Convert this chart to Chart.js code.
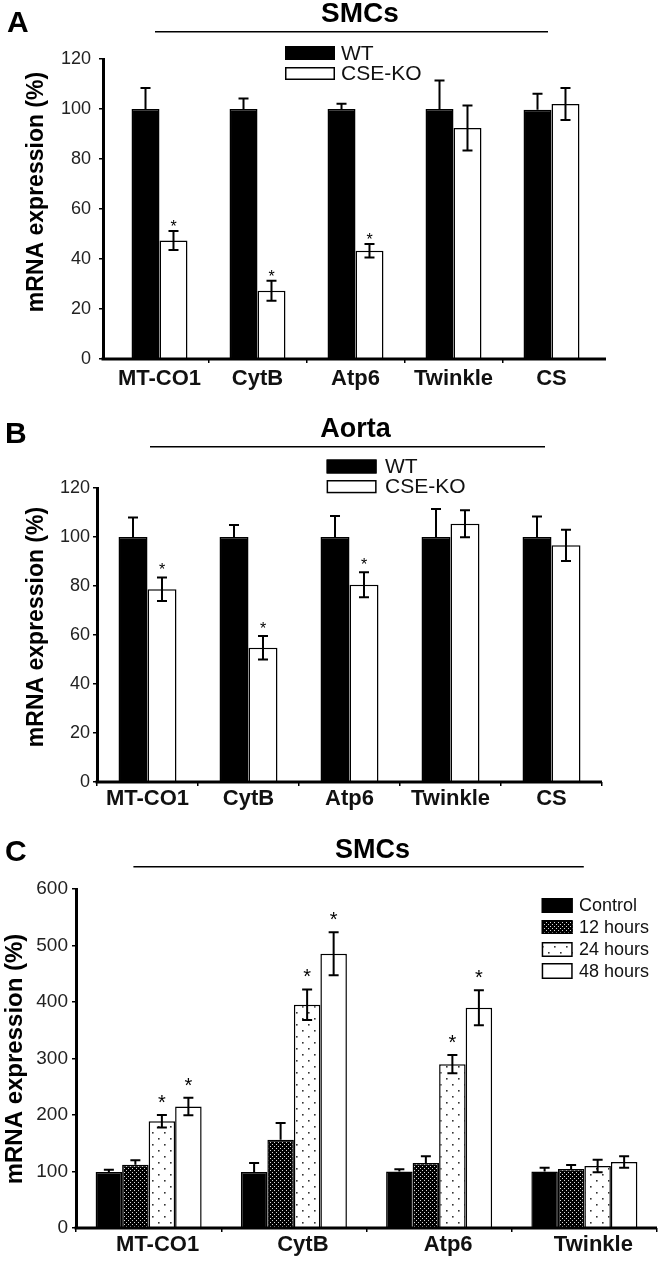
<!DOCTYPE html>
<html><head><meta charset="utf-8">
<script src="https://cdn.jsdelivr.net/npm/chart.js@4.4.1/dist/chart.umd.min.js"></script>
<style>
html,body{margin:0;padding:0;background:#fff;}
body{width:660px;height:1261px;position:relative;overflow:hidden;}
canvas{position:absolute;left:0;}
</style></head><body>
<canvas id="cA" width="660" height="400" style="top:0px"></canvas>
<canvas id="cB" width="660" height="440" style="top:380px"></canvas>
<canvas id="cC" width="660" height="461" style="top:800px"></canvas>
<script>
// ---------- DATA ----------
const genesAB = ['MT-CO1', 'CytB', 'Atp6', 'Twinkle', 'CS'];
const seriesAB = ['WT', 'CSE-KO'];
const yTicksAB = [0, 20, 40, 60, 80, 100, 120];

// Panel A (SMCs)
const aWT = [100, 100, 100, 100, 99.7];
const aWTsd = [8.4, 4.2, 2.1, 11.4, 6.4];
const aKO = [47.4, 27.3, 43.3, 92.4, 102];
const aKOsd = [3.8, 4.0, 2.7, 9.0, 6.4];
const aKOsig = [1, 1, 1, 0, 0];

// Panel B (Aorta)
const bWT = [100, 100, 100, 100, 100];
const bWTsd = [8.0, 4.9, 8.6, 11.4, 8.4];
const bKO = [78.7, 54.8, 80.5, 105.4, 96.6];
const bKOsd = [4.8, 4.8, 5.1, 5.5, 6.4];
const bKOsig = [1, 1, 1, 0, 0];

// Panel C (SMCs, time course)
const genesC = ['MT-CO1', 'CytB', 'Atp6', 'Twinkle'];
const seriesC = ['Control', '12 hours', '24 hours', '48 hours'];
const yTicksC = [0, 100, 200, 300, 400, 500, 600];
const cCtrl = [99, 99, 100, 100];
const cCtrlSd = [4, 16, 4, 6.7];
const c12 = [112, 156, 115, 104.4];
const c12Sd = [7.7, 30, 12, 7];
const c24 = [189, 395, 290, 109.7];
const c24Sd = [11, 27, 16, 11];
const c24sig = [1, 1, 1, 0];
const c48 = [215, 485.5, 390, 116.8];
const c48Sd = [15.5, 38, 31, 10];
const c48sig = [1, 1, 1, 0];

// ---------- STYLES ----------
const SANS = "'Liberation Sans', Arial, Helvetica, sans-serif";

function makePattern(bg, fg, w, h, dots) {
  const c = document.createElement('canvas');
  c.width = w; c.height = h;
  const g = c.getContext('2d');
  g.fillStyle = bg; g.fillRect(0, 0, w, h);
  g.fillStyle = fg;
  dots.forEach(d => g.fillRect(d[0], d[1], d[2], d[3]));
  return g.createPattern(c, 'repeat');
}
const pat12 = makePattern('#000', '#d8d8d8', 4, 4, [[0, 0, 1, 1], [2, 2, 1, 1]]);
const pat24 = makePattern('#fff', '#333', 12, 12, [[2, 2, 1.6, 1.6], [8, 8, 1.6, 1.6]]);

// ---------- PLUGIN ----------
const panelPlugin = {
  id: 'panel',
  afterLayout(chart, args, o) {
    const x = chart.scales.x;
    if (o.insetL || o.insetR) {
      x.left += o.insetL || 0;
      x.right -= o.insetR || 0;
      x.width = x.right - x.left;
      x.configure();
    }
  },
  afterDatasetsDraw(chart, args, o) {
    const ctx = chart.ctx, y = chart.scales.y;
    ctx.save();
    chart.data.datasets.forEach((ds, i) => {
      const meta = chart.getDatasetMeta(i);
      meta.data.forEach((bar, j) => {
        const v = ds.data[j], e = ds.errors[j];
        const top = y.getPixelForValue(v + e);
        const bot = ds.lowerErr ? y.getPixelForValue(v - e) : bar.y;
        ctx.strokeStyle = '#000';
        ctx.lineWidth = 2;
        ctx.beginPath();
        ctx.moveTo(bar.x, bot); ctx.lineTo(bar.x, top);
        ctx.moveTo(bar.x - o.cap, top); ctx.lineTo(bar.x + o.cap, top);
        if (ds.lowerErr) { ctx.moveTo(bar.x - o.cap, bot); ctx.lineTo(bar.x + o.cap, bot); }
        ctx.stroke();
        if (ds.sig && ds.sig[j]) {
          ctx.fillStyle = '#000';
          ctx.font = o.starSize + 'px ' + SANS;
          ctx.textAlign = 'center';
          ctx.textBaseline = 'middle';
          ctx.fillText('*', bar.x, top - o.starGap + 0.22 * o.starSize);
        }
      });
    });
    ctx.restore();
  },
  afterDraw(chart, args, o) {
    const ctx = chart.ctx, a = chart.chartArea;
    ctx.save();
    // x axis line
    ctx.strokeStyle = '#000';
    ctx.lineWidth = 3;
    ctx.beginPath();
    ctx.moveTo(a.left - 1.5, a.bottom);
    ctx.lineTo(a.right, a.bottom);
    ctx.stroke();
    // panel letter
    ctx.fillStyle = '#000';
    ctx.font = 'bold 30px ' + SANS;
    ctx.textAlign = 'left';
    ctx.textBaseline = 'alphabetic';
    ctx.fillText(o.letter, o.letterX, o.letterY);
    // title + rule
    ctx.font = 'bold ' + o.titleSize + 'px ' + SANS;
    ctx.textAlign = 'center';
    ctx.fillText(o.title, o.titleX, o.titleY);
    ctx.lineWidth = 1.5;
    ctx.beginPath();
    ctx.moveTo(o.rule[0], o.rule[2]);
    ctx.lineTo(o.rule[1], o.rule[2]);
    ctx.stroke();
    // y title
    ctx.save();
    ctx.translate(o.yTitleX, o.yTitleY);
    ctx.rotate(-Math.PI / 2);
    ctx.font = 'bold ' + o.yTitleSize + 'px ' + SANS;
    ctx.textAlign = 'center';
    ctx.textBaseline = 'middle';
    ctx.fillText('mRNA expression (%)', 0, 0);
    ctx.restore();
    // legend
    const L = o.legend;
    chart.data.datasets.forEach((ds, i) => {
      const r = L.rows[i];
      ctx.fillStyle = ds.backgroundColor;
      ctx.fillRect(L.x, r[0], L.w, r[1]);
      ctx.strokeStyle = '#000';
      ctx.lineWidth = 1.5;
      ctx.strokeRect(L.x + 0.75, r[0] + 0.75, L.w - 1.5, r[1] - 1.5);
      ctx.fillStyle = '#111';
      ctx.font = L.size + 'px ' + SANS;
      ctx.textAlign = 'left';
      ctx.textBaseline = 'middle';
      ctx.fillText(ds.label, L.textX, r[0] + r[1] / 2 + 1);
    });
    ctx.restore();
  }
};

function makeChart(id, labels, datasets, yTicks, P) {
  const n = labels.length;
  return new Chart(document.getElementById(id), {
    type: 'bar',
    data: { labels: labels, datasets: datasets },
    plugins: [panelPlugin],
    options: {
      responsive: false,
      animation: false,
      devicePixelRatio: 1,
      layout: { padding: { left: 0, top: P.padTop, right: P.padRight, bottom: 0 } },
      datasets: { bar: { categoryPercentage: P.catPct, barPercentage: 1.0, borderWidth: 1.5, borderColor: '#000' } },
      plugins: {
        legend: { display: false },
        tooltip: { enabled: false },
        panel: P.panel
      },
      scales: {
        x: {
          type: 'category',
          offset: true,
          grid: {
            offset: true, drawOnChartArea: false, drawTicks: true, tickLength: 4, lineWidth: 1.5,
            color: '#000',
            tickColor: (c) => (P.hideEndTicks && (c.index === 0 || c.index === undefined || c.index >= n)) ? 'rgba(0,0,0,0)' : '#000'
          },
          border: { display: false },
          ticks: {
            font: { family: SANS, size: 22, weight: 'bold' }, color: '#111',
            padding: P.xPad, labelOffset: P.labelOffset, maxRotation: 0, autoSkip: false
          },
          afterFit: (s) => { s.height = P.xH; }
        },
        y: {
          min: yTicks[0], max: yTicks[yTicks.length - 1],
          ticks: { stepSize: yTicks[1] - yTicks[0], font: { family: SANS, size: P.yFont }, color: '#222', padding: P.yPad },
          grid: { drawOnChartArea: false, drawTicks: true, tickLength: 4, lineWidth: 1.5, color: '#000' },
          border: { display: true, width: 3, color: '#000' },
          afterFit: (s) => { s.width = P.yW; }
        }
      }
    }
  });
}

// Panel A
makeChart('cA', genesAB, [
  { label: seriesAB[0], data: aWT, errors: aWTsd, lowerErr: false, backgroundColor: '#000' },
  { label: seriesAB[1], data: aKO, errors: aKOsd, lowerErr: true, sig: aKOsig, backgroundColor: '#fff' }
], yTicksAB, {
  padTop: 59, padRight: 54, xH: 41, yW: 103, catPct: 0.571, xPad: 3, yPad: 8, yFont: 18, labelOffset: 0, hideEndTicks: true,
  panel: {
    insetL: 7.5, insetR: 5.5, cap: 5, starSize: 16, starGap: 7,
    letter: 'A', letterX: 7, letterY: 32,
    title: 'SMCs', titleSize: 28, titleX: 360, titleY: 22, rule: [155, 548, 31.7],
    yTitleX: 37, yTitleY: 192, yTitleSize: 23,
    legend: { x: 285, w: 50, rows: [[46, 14], [67, 13]], textX: 341, size: 21 }
  }
});

// Panel B
makeChart('cB', genesAB, [
  { label: seriesAB[0], data: bWT, errors: bWTsd, lowerErr: false, backgroundColor: '#000' },
  { label: seriesAB[1], data: bKO, errors: bKOsd, lowerErr: true, sig: bKOsig, backgroundColor: '#fff' }
], yTicksAB, {
  padTop: 108, padRight: 58, xH: 38, yW: 97, catPct: 0.574, xPad: 0, yPad: 3, yFont: 18, labelOffset: 0, hideEndTicks: false,
  panel: {
    insetL: 0, insetR: 0, cap: 5, starSize: 16, starGap: 10,
    letter: 'B', letterX: 5, letterY: 63,
    title: 'Aorta', titleSize: 27, titleX: 355.5, titleY: 57, rule: [150, 545, 66.7],
    yTitleX: 37, yTitleY: 247, yTitleSize: 23,
    legend: { x: 326.6, w: 50, rows: [[79.5, 14], [100, 13.3]], textX: 385, size: 21 }
  }
});

// Panel C
makeChart('cC', genesC, [
  { label: seriesC[0], data: cCtrl, errors: cCtrlSd, lowerErr: false, backgroundColor: '#000' },
  { label: seriesC[1], data: c12, errors: c12Sd, lowerErr: false, backgroundColor: pat12 },
  { label: seriesC[2], data: c24, errors: c24Sd, lowerErr: true, sig: c24sig, backgroundColor: pat24 },
  { label: seriesC[3], data: c48, errors: c48Sd, lowerErr: true, sig: c48sig, backgroundColor: '#fff' }
], yTicksC, {
  padTop: 89, padRight: 3, xH: 33, yW: 76, catPct: 0.73, xPad: 0, yPad: 4, yFont: 19, labelOffset: 9, hideEndTicks: false,
  panel: {
    insetL: 0, insetR: 0, cap: 5, starSize: 20, starGap: 16,
    letter: 'C', letterX: 5, letterY: 61,
    title: 'SMCs', titleSize: 27, titleX: 372.5, titleY: 58, rule: [133.4, 583.8, 66.7],
    yTitleX: 15, yTitleY: 259, yTitleSize: 24,
    legend: { x: 541.7, w: 31, rows: [[98, 15], [120, 14], [142, 15], [163, 16]], textX: 579, size: 18 }
  }
});
</script>
</body></html>
